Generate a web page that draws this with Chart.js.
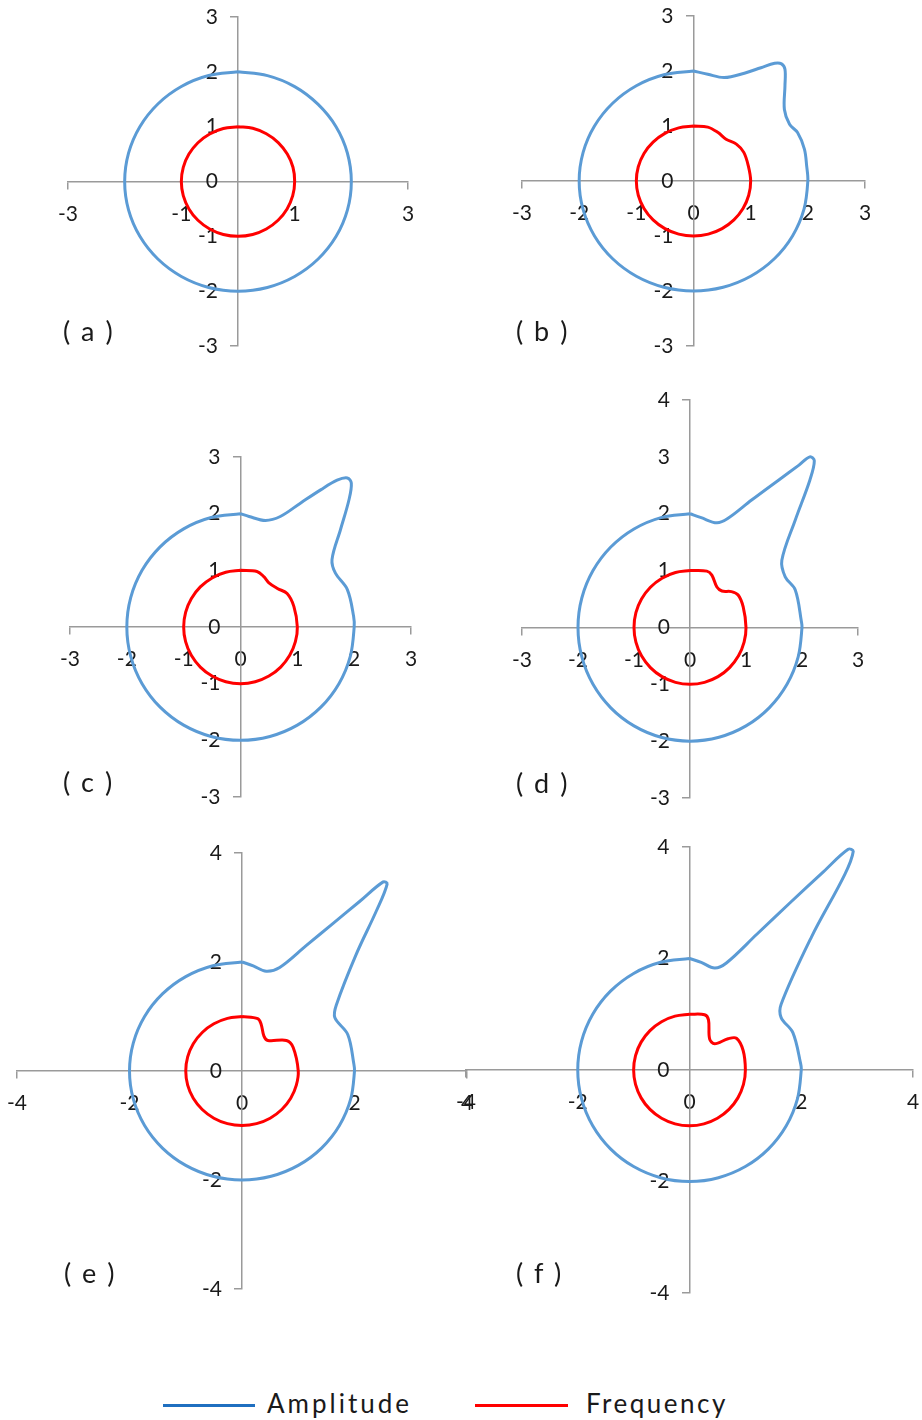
<!DOCTYPE html>
<html>
<head>
<meta charset="utf-8">
<script src="https://cdn.jsdelivr.net/npm/chart.js@4.4.1/dist/chart.umd.min.js"></script>
<style>
  body { margin: 0; background: #fff; overflow: hidden; font-family: Lato, "Open Sans", sans-serif; color: #1a1a1a; }
  #page { position: relative; width: 922px; height: 1420px; overflow: hidden; }
  #page canvas { position: absolute; }
  .tag { position: absolute; font-size: 27px; line-height: 1; white-space: pre; word-spacing: 4px; }
  .key { position: absolute; height: 3px; }
  .keytext { position: absolute; font-size: 26px; line-height: 1; letter-spacing: 3px; }
</style>
</head>
<body>
<div id="page">
  <canvas id="chartA" width="400" height="389" style="left:38px;top:-13px"></canvas>
  <canvas id="chartB" width="403" height="390" style="left:492px;top:-14px"></canvas>
  <canvas id="chartC" width="401" height="400" style="left:40px;top:427px"></canvas>
  <canvas id="chartD" width="396" height="458" style="left:492px;top:370px"></canvas>
  <canvas id="chartE" width="510" height="496" style="left:-13px;top:823px"></canvas>
  <canvas id="chartF" width="507" height="506" style="left:436px;top:817px"></canvas>

  <div class="tag" style="left:63px;top:317px">( a )</div>
  <div class="tag" style="left:516px;top:317px">( b )</div>
  <div class="tag" style="left:63px;top:768px">( c )</div>
  <div class="tag" style="left:516px;top:769px">( d )</div>
  <div class="tag" style="left:64px;top:1259px">( e )</div>
  <div class="tag" style="left:516px;top:1259px">( f )</div>

  <div class="key" style="left:163px;top:1404px;width:92px;background:#1f6fc0"></div>
  <div class="keytext" style="left:267px;top:1390px">Amplitude</div>
  <div class="key" style="left:475px;top:1404px;width:93px;background:#ff0000"></div>
  <div class="keytext" style="left:586px;top:1390px;letter-spacing:2.5px">Frequency</div>
</div>

<script>
// untouched part of every loop, walked clockwise from the +x axis round to the top (degrees)
const ringAngles = [360, 345, 330, 315, 300, 285, 270, 255, 240, 225, 210, 195, 180, 165, 150, 135, 120, 105, 90];
const ampRadius = 2;
const freqRadius = 1;

// first quadrant of each loop, from the top down to the +x axis
const ampA = [[0, 2], [0.52, 1.93], [1.0, 1.73], [1.41, 1.41], [1.73, 1.0], [1.93, 0.52]];
const freqA = [[0, 1], [0.26, 0.97], [0.5, 0.87], [0.71, 0.71], [0.87, 0.5], [0.97, 0.26]];

const ampB = [[0, 2], [0.25, 1.94], [0.54, 1.88], [0.89, 1.96], [1.18, 2.06], [1.42, 2.14], [1.54, 2.13],
  [1.60, 2.03], [1.60, 1.73], [1.59, 1.30], [1.68, 1.03], [1.82, 0.88], [1.94, 0.58], [1.98, 0.27]];
const freqB = [[0, 1], [0.25, 0.98], [0.43, 0.88], [0.57, 0.76], [0.75, 0.67], [0.88, 0.52], [0.96, 0.27]];

const ampC = [[0, 2], [0.15, 1.95], [0.44, 1.88], [0.70, 1.95], [1.06, 2.19], [1.41, 2.42], [1.70, 2.59],
  [1.88, 2.63], [1.95, 2.54], [1.91, 2.25], [1.76, 1.72], [1.61, 1.19], [1.67, 0.95], [1.88, 0.66], [1.99, 0.19]];
const freqC = [[0, 1], [0.29, 0.98], [0.41, 0.89], [0.50, 0.78], [0.65, 0.68], [0.82, 0.59], [0.94, 0.36]];

const ampD = [[0, 2], [0.2, 1.93], [0.48, 1.84], [0.68, 1.92], [1.10, 2.24], [1.58, 2.59], [1.94, 2.85],
  [2.14, 3.0], [2.22, 2.93], [2.14, 2.59], [1.88, 1.89], [1.64, 1.18], [1.70, 0.89], [1.88, 0.66], [1.99, 0.1]];
const freqD = [[0, 1], [0.30, 0.99], [0.39, 0.92], [0.48, 0.71], [0.57, 0.64], [0.74, 0.63], [0.86, 0.57], [0.95, 0.36]];

const ampE = [[0, 2], [0.2, 1.93], [0.43, 1.83], [0.67, 1.90], [1.14, 2.30], [1.62, 2.71], [2.09, 3.11],
  [2.51, 3.47], [2.58, 3.43], [2.39, 2.94], [2.03, 2.14], [1.68, 1.22], [1.65, 0.98], [1.88, 0.67], [1.99, 0.12]];
const freqE = [[0, 1], [0.28, 0.96], [0.34, 0.86], [0.39, 0.64], [0.46, 0.56], [0.79, 0.56], [0.91, 0.43]];

const ampF = [[0, 2], [0.21, 1.93], [0.45, 1.83], [0.66, 1.92], [1.20, 2.43], [1.80, 3.00], [2.40, 3.56],
  [2.84, 3.96], [2.93, 3.92], [2.78, 3.51], [2.18, 2.38], [1.64, 1.18], [1.64, 0.94], [1.85, 0.67], [1.99, 0.11]];
const freqF = [[0, 1], [0.27, 0.99], [0.34, 0.90], [0.36, 0.56], [0.45, 0.47], [0.69, 0.56], [0.84, 0.57], [0.96, 0.35]];

// axis ranges and the tick labels that are printed
const xRange3 = [-3, 3];
const yRange3 = [-3, 3];
const yRangeD = [-3, 4];
const range4 = [-4, 4];
const xLabelsA = [-3, -1, 1, 3];
const labels3 = [-3, -2, -1, 0, 1, 2, 3];
const labelsD = [-3, -2, -1, 0, 1, 2, 3, 4];
const labels4 = [-4, -2, 0, 2, 4];

const seriesNames = ['Amplitude', 'Frequency'];

const axisGray = '#9a9a9a';

function loop(quadrant, radius) {
  const pts = quadrant.map(p => ({ x: p[0], y: p[1] }));
  ringAngles.forEach(a => {
    const t = a * Math.PI / 180;
    pts.push({ x: radius * Math.cos(t), y: radius * Math.sin(t) });
  });
  return pts;
}

function axis(range, step, shown, position) {
  return {
    type: 'linear',
    position: position,
    min: range[0],
    max: range[1],
    border: { display: true, color: axisGray, width: 1.5 },
    grid: {
      drawOnChartArea: false,
      drawTicks: true,
      tickLength: 7,
      lineWidth: 1.5,
      // only the two end ticks get a mark
      tickColor: ctx => (ctx.tick && (ctx.tick.value === range[0] || ctx.tick.value === range[1])) ? axisGray : 'rgba(0,0,0,0)'
    },
    ticks: {
      stepSize: step,
      autoSkip: false,
      maxRotation: 0,
      padding: 13,
      color: '#1a1a1a',
      font: { family: 'Lato', size: 21 },
      callback: v => shown.includes(v) ? String(v) : ''
    }
  };
}

function drawPanel(id, amp, freq, xr, yr, step, xShown, yShown) {
  new Chart(document.getElementById(id), {
    type: 'scatter',
    data: {
      datasets: [
        { label: seriesNames[0], data: loop(amp, ampRadius), showLine: true, borderColor: '#5b9bd5',
          borderWidth: 3, pointRadius: 0, tension: 0.35, fill: false },
        { label: seriesNames[1], data: loop(freq, freqRadius), showLine: true, borderColor: '#ff0000',
          borderWidth: 3, pointRadius: 0, tension: 0.35, fill: false }
      ]
    },
    options: {
      responsive: false,
      animation: false,
      devicePixelRatio: 1,
      // wide enough that the tick labels never push the plot area in
      layout: { padding: 30 },
      plugins: { legend: { display: false }, tooltip: { enabled: false } },
      scales: {
        x: axis(xr, step, xShown, { y: 0 }),
        y: axis(yr, step, yShown, 'center')
      }
    }
  });
}

drawPanel('chartA', ampA, freqA, xRange3, yRange3, 1, xLabelsA, labels3);
drawPanel('chartB', ampB, freqB, xRange3, yRange3, 1, labels3, labels3);
drawPanel('chartC', ampC, freqC, xRange3, yRange3, 1, labels3, labels3);
drawPanel('chartD', ampD, freqD, xRange3, yRangeD, 1, labels3, labelsD);
drawPanel('chartE', ampE, freqE, range4, range4, 2, labels4, labels4);
drawPanel('chartF', ampF, freqF, range4, range4, 2, labels4, labels4);
</script>
</body>
</html>
